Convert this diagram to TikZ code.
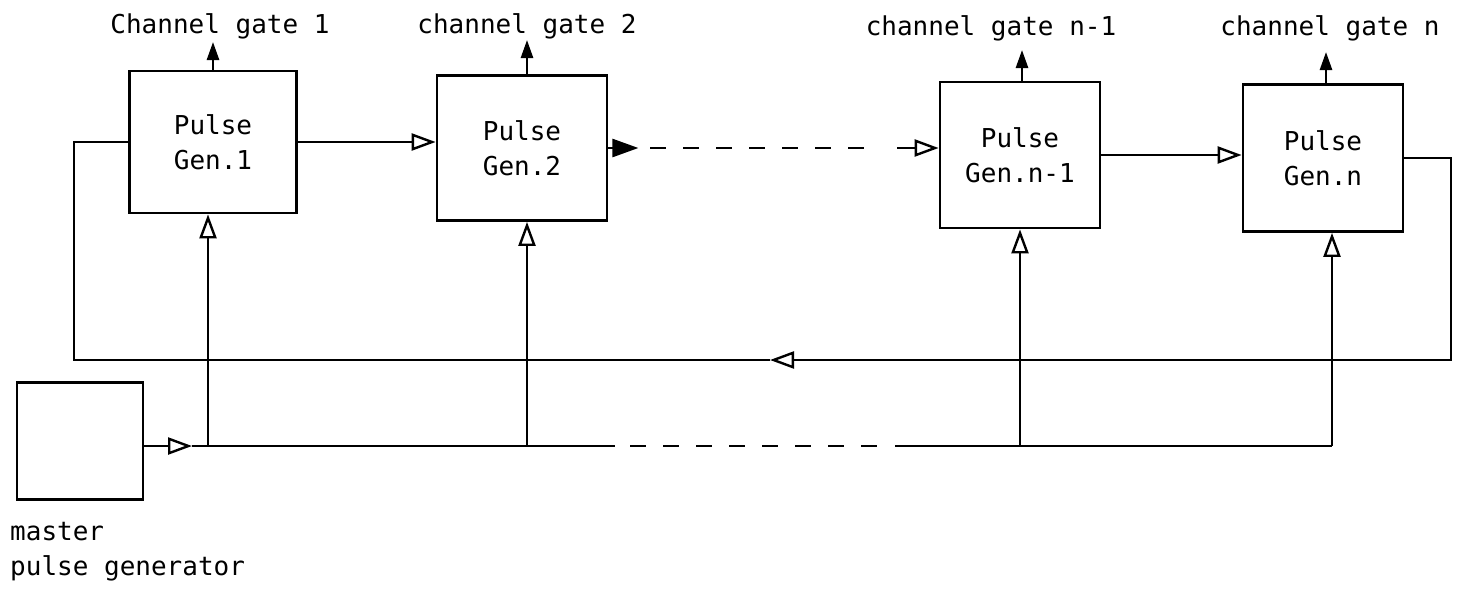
\documentclass[tikz,border=0pt]{standalone}
\usepackage{fontspec}
\setmonofont{DejaVu Sans Mono}
\usetikzlibrary{arrows.meta}
\tikzset{
  blk/.style={draw, line width=2.8pt, inner sep=0pt, align=center, font=\lbl},
  wire/.style={line width=2.6pt},
  oarr/.style={wire, -{Triangle[open, length=24pt, width=17pt, line width=2.4pt]}},
  farr/.style={wire, -{Triangle[length=26pt, width=18pt]}},
  uarr/.style={wire, -{Triangle[length=18pt, width=12pt]}},
  dsh/.style={wire, dash pattern=on 16pt off 17pt},
  lab/.style={font=\lbl, inner sep=0pt},
}
\newcommand{\lbl}{\ttfamily\fontsize{26}{35}\selectfont}
\begin{document}
\begin{tikzpicture}[x=1pt, y=-1pt]
\useasboundingbox (0,0) rectangle (1462,590);
% boxes
\node[blk, minimum width=167pt, minimum height=142pt] (b1) at (213,142) {Pulse\\Gen.1};
\node[blk, minimum width=170pt, minimum height=145pt] (b2) at (522,148) {Pulse\\Gen.2};
\node[blk, minimum width=160pt, minimum height=146pt] (b3) at (1020,155) {Pulse\\Gen.n-1};
\node[blk, minimum width=160pt, minimum height=147pt] (b4) at (1323,158) {Pulse\\Gen.n};
\node[blk, minimum width=126pt, minimum height=117pt] (m) at (80,441) {};
% labels
\node[lab] (l1) at (220,26) {Channel gate 1};
\node[lab] (l2) at (527,26) {channel gate 2};
\node[lab] (l3) at (991,28) {channel gate n-1};
\node[lab] (l4) at (1330,28) {channel gate n};
\node[lab, anchor=north west, align=left] (ml) at (10,522) {master\\pulse generator};
% outputs
\coordinate (o1) at (213,42);
\coordinate (o2) at (527,40);
\coordinate (o3) at (1022,50);
\coordinate (o4) at (1326,52);
\draw[uarr] (b1.north -| o1) -- (o1);
\draw[uarr] (b2.north -| o2) -- (o2);
\draw[uarr] (b3.north -| o3) -- (o3);
\draw[uarr] (b4.north -| o4) -- (o4);
% chain
\draw[oarr] (b1.east) -- (b1.east -| b2.west);
\draw[farr] (b2.east) -- ++(30,0) coordinate (d1);
\draw[dsh] (d1) ++(12,0) -- (880,0 |- d1);
\coordinate (d2) at (897,0 |- d1);
\draw[oarr] (d2) -- (d2 -| b3.west);
\draw[oarr] (b3.east) -- (b3.east -| b4.west);
% feedback loop
\coordinate (r1) at (1451,360);
\coordinate (fa) at (770,360);
\coordinate (r2) at (74,360);
\draw[oarr] (b4.east) -| (r1) -- (fa);
\draw[wire] (fa) -- (r2) |- (b1.west);
% distribution bus
\coordinate (j1) at (208,446);
\coordinate (j2) at (527,446);
\coordinate (j3) at (1020,446);
\coordinate (j4) at (1332,446);
\coordinate (ma) at (192,446);
\draw[oarr] (m.east |- ma) -- (ma);
\draw[wire] (ma) -- (j1) -- (j2) -- (615,446);
\draw[dsh] (630,446) -- (880,446);
\draw[wire] (895,446) -- (j3) -- (j4);
\draw[oarr] (j1) -- (j1 |- b1.south);
\draw[oarr] (j2) -- (j2 |- b2.south);
\draw[oarr] (j3) -- (j3 |- b3.south);
\draw[oarr] (j4) -- (j4 |- b4.south);
\end{tikzpicture}
\end{document}
